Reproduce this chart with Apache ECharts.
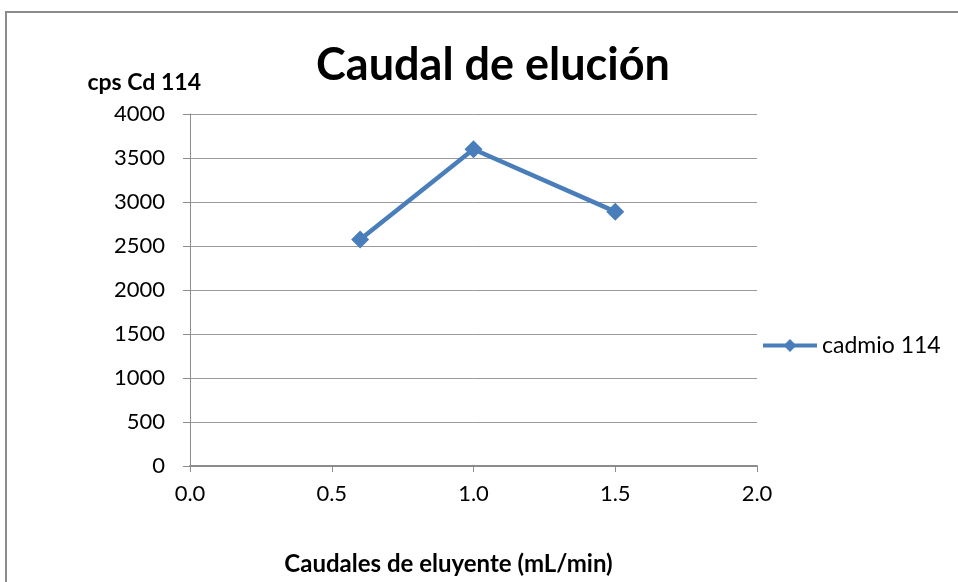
<!DOCTYPE html>
<html><head><meta charset="utf-8">
<script src="https://cdn.jsdelivr.net/npm/echarts@6/dist/echarts.min.js"></script>
<style>html,body{margin:0;padding:0;background:#fff}#c{width:958px;height:582px}</style>
</head><body><div id="c"></div>
<script>
const xValues = [0.6, 1.0, 1.5];
const yValues = [2575, 3600, 2890];
const seriesName = 'cadmio 114';
const titleText = 'Caudal de elución';
const yName = 'cps Cd 114';
const xName = 'Caudales de eluyente (mL/min)';

const FONT = 'Lato, "Open Sans", sans-serif';
const chart = echarts.init(document.getElementById('c'));
chart.setOption({
  backgroundColor: '#fff',
  animation: false,
  graphic: [{type: 'rect', shape: {x: 6, y: 12, width: 1000, height: 700}, style: {fill: 'none', stroke: '#8c8c8c', lineWidth: 2}, silent: true}],
  title: {text: titleText, left: 488, top: 38, textAlign: 'center',
    textStyle: {fontFamily: FONT, fontSize: 45, fontWeight: 'bold', color: '#000'}},
  legend: {left: 756, top: 329, orient: 'vertical', itemWidth: 54, itemHeight: 16, itemGap: 6,
    textStyle: {fontFamily: FONT, fontSize: 23, color: '#000'},
    data: [{name: seriesName, lineStyle: {width: 4}}]},
  grid: {left: 190, right: 201, top: 114, bottom: 116, containLabel: false, outerBoundsMode: 'none'},
  xAxis: {type: 'value', min: 0, max: 2, interval: 0.5,
    name: xName, nameLocation: 'middle', nameGap: 86,
    nameTextStyle: {fontFamily: FONT, fontSize: 24, fontWeight: 'bold', color: '#000', padding: [0, 50, 0, 0]},
    axisLine: {lineStyle: {color: '#8c8c8c', width: 2}},
    axisTick: {show: true, length: 6, lineStyle: {color: '#8c8c8c'}},
    splitLine: {show: false},
    axisLabel: {fontFamily: FONT, fontSize: 22, color: '#000', margin: 17, formatter: v => v.toFixed(1)}},
  yAxis: {type: 'value', min: 0, max: 4000, interval: 500,
    name: yName, nameLocation: 'end', nameGap: 20,
    nameTextStyle: {fontFamily: FONT, fontSize: 23, fontWeight: 'bold', color: '#000', align: 'right', padding: [0, -11, 0, 0]},
    axisLine: {show: true, lineStyle: {color: '#8c8c8c', width: 1}},
    axisTick: {show: true, length: 7, lineStyle: {color: '#8c8c8c'}},
    splitLine: {lineStyle: {color: '#9a9a9a', width: 1}},
    axisLabel: {fontFamily: FONT, fontSize: 22, color: '#000', margin: 25, formatter: v => String(v)}},
  series: [{name: seriesName, type: 'line', data: xValues.map((x, i) => [x, yValues[i]]),
    symbol: 'diamond', symbolSize: 18, color: '#4a7ebb',
    lineStyle: {width: 4.5, color: '#4a7ebb'}, itemStyle: {color: '#4a7ebb'}}]
});
</script></body></html>
